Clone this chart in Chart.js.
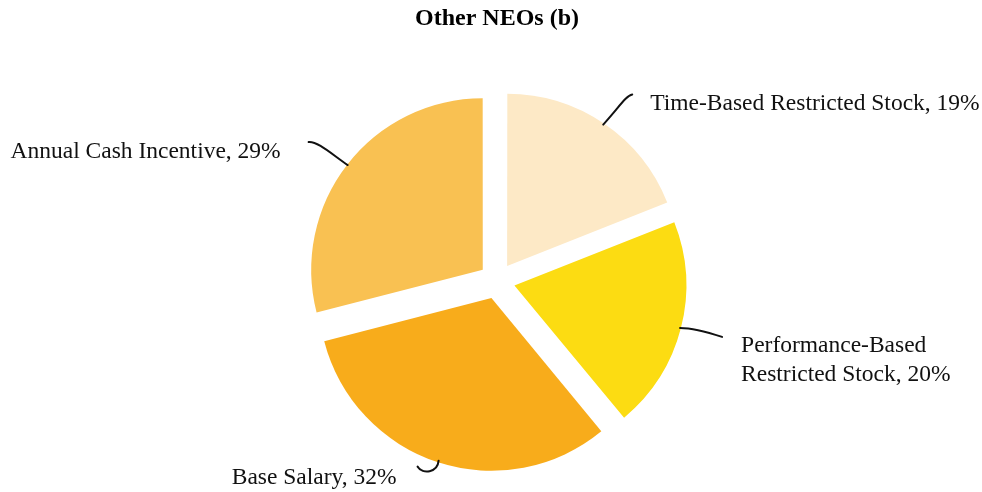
<!DOCTYPE html>
<html>
<head>
<meta charset="utf-8">
<script src="https://cdn.jsdelivr.net/npm/chart.js@4"></script>
<style>
  body { margin: 0; background: #fff; }
  #wrap { width: 982px; height: 492px; position: relative; }
</style>
</head>
<body>
<div id="wrap"><canvas id="pie"></canvas></div>
<script>
// werte (im uhrzeigersinn ab 12 uhr)
const categories = ['Time-Based Restricted Stock', 'Performance-Based Restricted Stock', 'Base Salary', 'Annual Cash Incentive'];
const shares = [19, 20, 32, 29];
const labelLines = [
    ['Time-Based Restricted Stock, 19%'],
    ['Performance-Based', 'Restricted Stock, 20%'],
    ['Base Salary, 32%'],
    ['Annual Cash Incentive, 29%']
];
const sliceColors = ['#fde9c6', '#fcdc12', '#f8ac1b', '#f9c152'];

// form der hinweislinien und lage der texte, relativ zum punkt am aussenrand der scheibe
const leaderStyle = [
    { curve: [17, -19, 23, -29, 29, -30], text: [47, -15], align: 'left' },
    { curve: [14, 0, 30, 5, 42, 9], text: [61, 24], align: 'left' },
    { curve: [-1, 12, -16, 14, -21, 6], text: [-42, 23], align: 'right' },
    { curve: [-15, -10, -30, -24, -39, -23], text: [-67, -7], align: 'right' }
];

// beschriftungen mit geschwungenen linien an jede scheibe zeichnen
const outsideLabels = {
    id: 'outsideLabels',
    afterDatasetsDraw(chart) {
        const ctx = chart.ctx;
        const meta = chart.getDatasetMeta(0);
        meta.data.forEach(function(arc, i) {
            const p = arc.getProps(['x', 'y', 'startAngle', 'endAngle', 'outerRadius'], true);
            const shift = (arc.options.offset || 0) / 4;
            const mid = (p.startAngle + p.endAngle) / 2;
            const ax = p.x + Math.cos(mid) * (shift + p.outerRadius);
            const ay = p.y + Math.sin(mid) * (shift + p.outerRadius);
            const st = leaderStyle[i];
            const c = st.curve;

            ctx.save();
            ctx.strokeStyle = '#111';
            ctx.lineWidth = 2;
            ctx.lineCap = 'round';
            ctx.beginPath();
            ctx.moveTo(ax, ay);
            ctx.bezierCurveTo(ax + c[0], ay + c[1], ax + c[2], ay + c[3], ax + c[4], ay + c[5]);
            ctx.stroke();

            ctx.fillStyle = '#111';
            ctx.font = '23.5px "Liberation Serif", "Times New Roman", serif';
            ctx.textAlign = st.align;
            ctx.textBaseline = 'alphabetic';
            labelLines[i].forEach(function(line, k) {
                ctx.fillText(line, ax + st.text[0], ay + st.text[1] + k * 29);
            });
            ctx.restore();
        });
    }
};

const chart = new Chart(document.getElementById('pie'), {
    type: 'pie',
    data: {
        labels: categories,
        datasets: [{
            data: shares,
            backgroundColor: sliceColors,
            borderWidth: 0,
            offset: 72
        }]
    },
    options: {
        responsive: true,
        maintainAspectRatio: false,
        animation: false,
        events: [],
        radius: 171,
        layout: { padding: { left: 12, right: 0, top: 0, bottom: 0 } },
        plugins: {
            legend: { display: false },
            tooltip: { enabled: false },
            title: {
                display: true,
                text: 'Other NEOs (b)',
                color: '#000',
                font: { family: '"Liberation Serif", "Times New Roman", serif', size: 24, weight: 'bold' },
                padding: { top: 4, bottom: 37 }
            }
        }
    },
    plugins: [outsideLabels]
});
</script>
</body>
</html>
